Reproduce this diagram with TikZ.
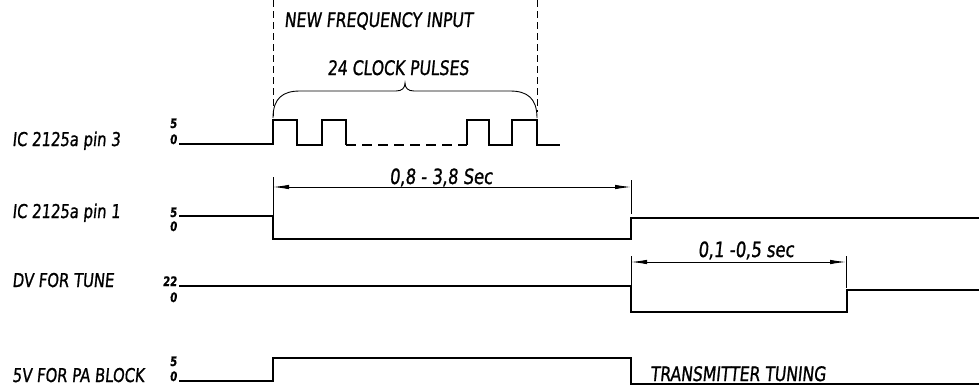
\documentclass[tikz,border=0pt]{standalone}
\usepackage{fontspec}
\setmainfont{DejaVu Sans}
\newfontfamily\lettering[FakeStretch=0.78,FakeSlant=0.1,FakeBold=1]{DejaVu Sans}
\usetikzlibrary{arrows.meta}
\begin{document}
\begin{tikzpicture}[x=1pt, y=-1pt]
  % Styles
  \tikzstyle{signame}=[anchor=base west, inner sep=0pt, font=\lettering\fontsize{19}{19}\selectfont]
  \tikzstyle{level}=[anchor=base east, inner sep=0pt, font=\lettering\bfseries\fontsize{13}{13}\selectfont]
  \tikzstyle{caption}=[inner sep=0pt, font=\lettering\fontsize{20}{20}\selectfont]
  \tikzstyle{wave}=[line width=1.1pt, line join=miter]
  \tikzstyle{dim}=[{Latex[length=16pt,width=4.5pt]}-{Latex[length=16pt,width=4.5pt]}, line width=0.9pt]
  \tikzstyle{ext}=[line width=0.9pt]
  \tikzstyle{marker}=[dash pattern=on 7pt off 4pt, line width=0.8pt]

  \useasboundingbox (0,0) rectangle (979,388);

  % Signal names
  \node[signame] (pin3) at (12,146) {IC 2125a pin 3};
  \node[signame] (pin1) at (12,218) {IC 2125a pin 1};
  \node[signame] (tune) at (12,287) {DV FOR TUNE};
  \node[signame] (pa) at (12,382) {5V FOR PA BLOCK};

  % Levels
  \node[level] (pin3hi) at (177,128) {5};
  \node[level] (pin3lo) at (177,144) {0};
  \node[level] (pin1hi) at (177,217) {5};
  \node[level] (pin1lo) at (177,231) {0};
  \node[level] (tunehi) at (177,286) {22};
  \node[level] (tunelo) at (177,302) {0};
  \node[level] (pahi) at (177,366) {5};
  \node[level] (palo) at (177,381) {0};

  % New frequency input window
  \draw[marker] (273,0) -- (273,116);
  \draw[marker] (537,0) -- (537,112);
  \node[caption, anchor=base west] (newfreq) at (284,27) {NEW FREQUENCY INPUT};
  \node[caption, anchor=base] (clock) at (398,75) {24 CLOCK PULSES};
  \draw[line width=0.9pt] (273,118) .. controls (273,98) and (283,91) .. (300,91) -- (396,91)
    .. controls (402,91) and (405,88) .. (405,83) .. controls (405,88) and (408,91) .. (414,91)
    -- (510,91) .. controls (527,91) and (537,98) .. (537,118);

  % IC 2125a pin 3
  \draw[wave] (179,144) -- (273,144) |- (297,120) |- (322,145) |- (346,120) -- (346,145);
  \draw[wave, dash pattern=on 10pt off 6pt] (346,145) -- (467,145);
  \draw[wave] (467,145) |- (489,120) |- (512,145) |- (537,120) |- (560,145);

  % IC 2125a pin 1
  \draw[wave] (179,216) -- (273,216) |- (631,239) |- (979,218);
  \coordinate (d1l) at (273,187);
  \coordinate (d1r) at (631,187);
  \draw[ext] (273,177) -- (273,216);
  \draw[ext] (631,180) -- (631,214);
  \draw[dim] (d1l) -- (d1r);
  \node[caption, anchor=base, font=\lettering\fontsize{21}{21}\selectfont] (span1) at (441,184) {0,8 - 3,8 Sec};

  % DV for tune
  \draw[wave] (179,286) -- (631,286) |- (847,312) |- (979,290);
  \coordinate (d2l) at (631,262);
  \coordinate (d2r) at (846,262);
  \draw[ext] (631,256) -- (631,286);
  \draw[ext] (846,256) -- (846,288);
  \draw[dim] (d2l) -- (d2r);
  \node[caption, anchor=base, font=\lettering\fontsize{21}{21}\selectfont] (span2) at (746,257) {0,1 -0,5 sec};

  % 5V for PA block
  \draw[wave] (179,381) -- (273,381) |- (631,358) |- (979,384);
  \node[caption, anchor=base west] (txtune) at (650,381) {TRANSMITTER TUNING};
\end{tikzpicture}
\end{document}
